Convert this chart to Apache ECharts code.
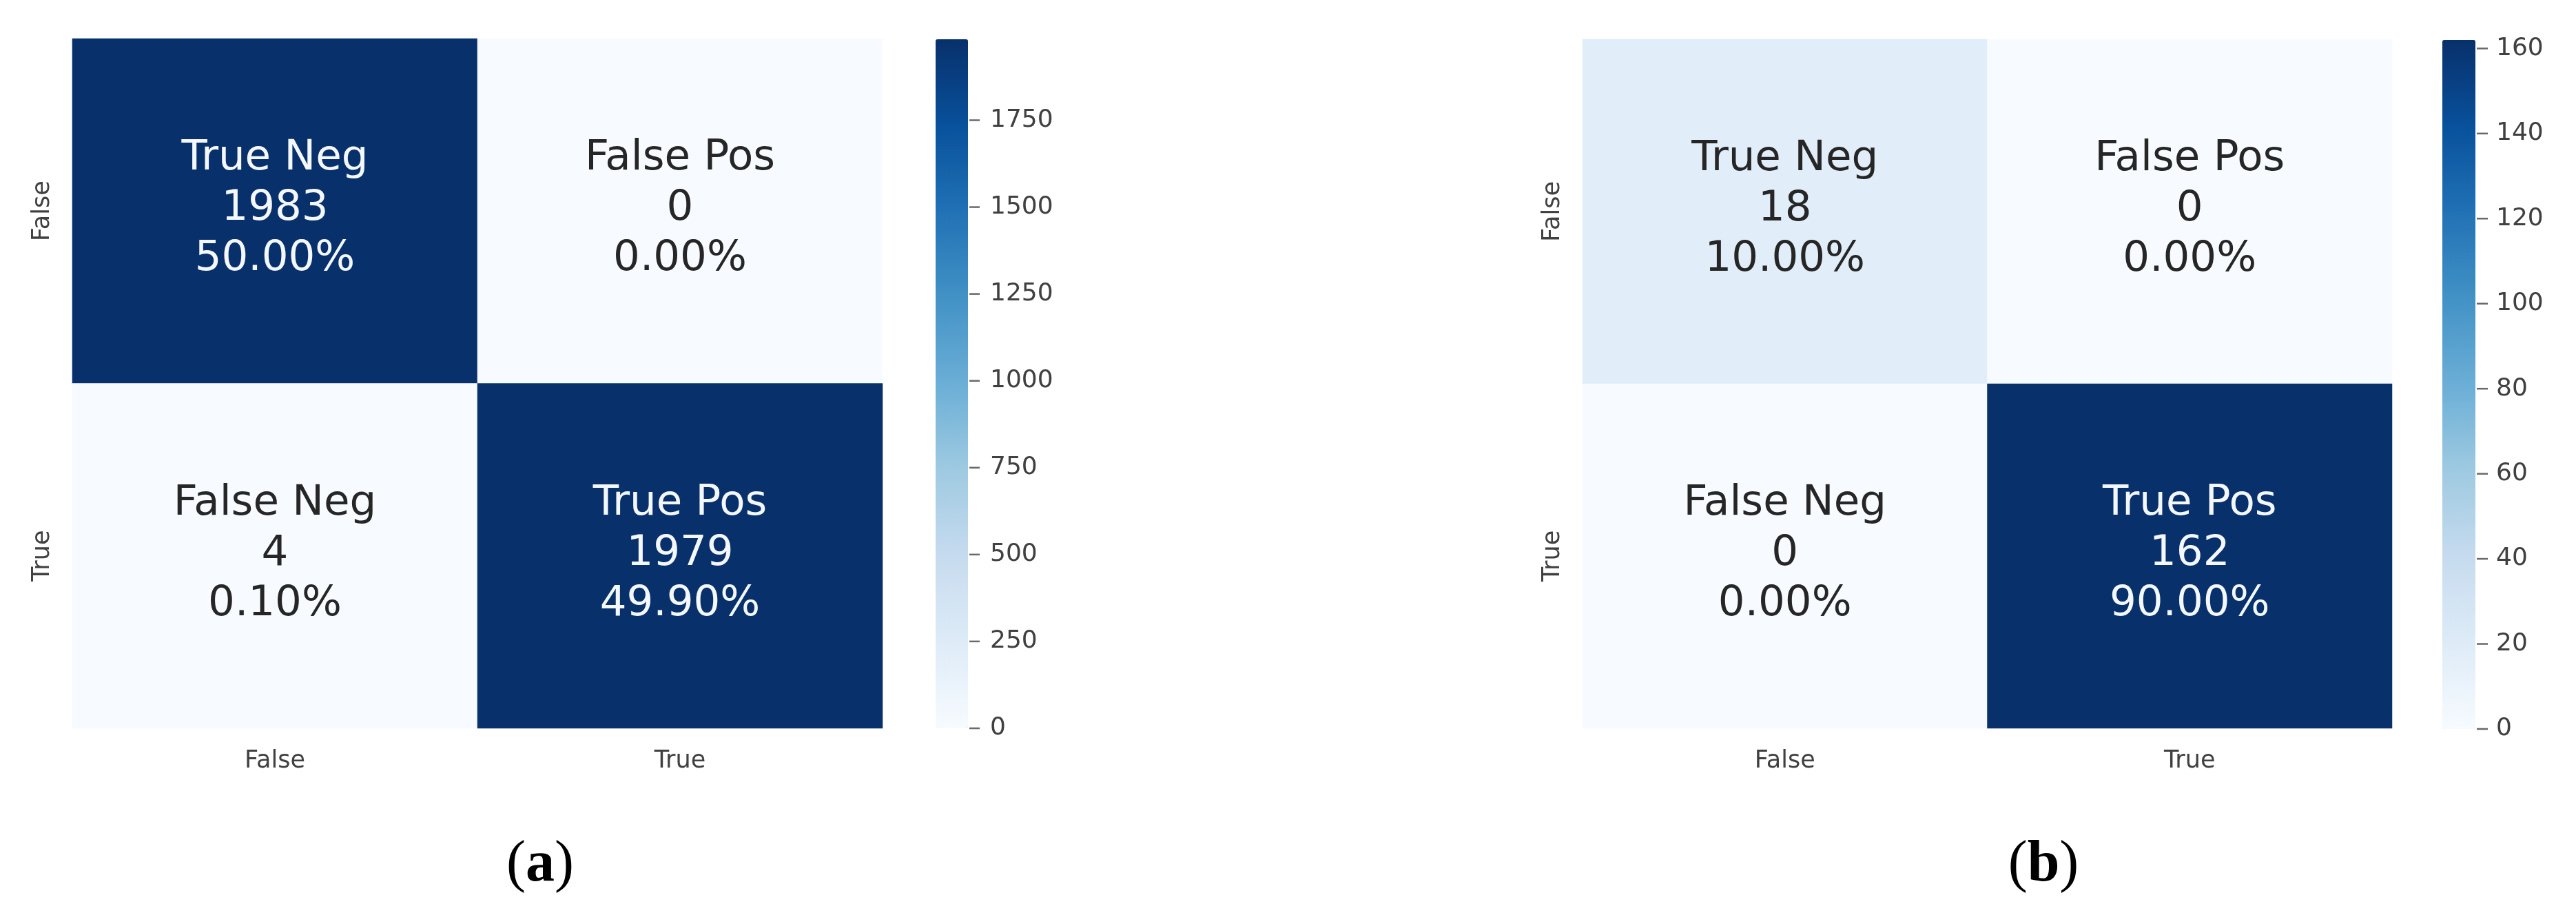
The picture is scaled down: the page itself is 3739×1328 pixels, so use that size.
<!DOCTYPE html>
<html>
<head>
<meta charset="utf-8">
<script src="https://cdn.jsdelivr.net/npm/echarts@6/dist/echarts.min.js"></script>
<style>
html,body{margin:0;padding:0;background:#fff;}
#chart{width:3739px;height:1328px;}
</style>
</head>
<body>
<div id="chart"></div>
<script>
// ---- data ----
const xCats = ['False', 'True'];
const yCats = ['False', 'True'];
const cellNames = ['True Neg', 'False Pos', 'False Neg', 'True Pos'];
const countsA = [1983, 0, 4, 1979];
const pctA = ['50.00%', '0.00%', '0.10%', '49.90%'];
const countsB = [18, 0, 0, 162];
const pctB = ['10.00%', '0.00%', '0.00%', '90.00%'];
const maxA = 1983;
const maxB = 162;
const ticksA = [0, 250, 500, 750, 1000, 1250, 1500, 1750];
const ticksB = [0, 20, 40, 60, 80, 100, 120, 140, 160];
const captions = ['a', 'b'];

// ---- styles ----
const blues = ['#f7fbff', '#deebf7', '#c6dbef', '#9ecae1', '#6baed6', '#4292c6', '#2171b5', '#08519c', '#08306b'];
const FONT = '"DejaVu Sans", sans-serif';
const lightText = '#f4f8fd';
const darkText = '#262626';
const tickColor = '#444444';

function cells(counts, max) {
  return counts.map((v, i) => ({
    value: [i % 2, Math.floor(i / 2), v],
    label: { color: v / max > 0.5 ? lightText : darkText }
  }));
}
function fmt(pcts) {
  return p => cellNames[p.dataIndex] + '\n' + p.value[2] + '\n' + pcts[p.dataIndex];
}

const gridA = { left: 105, top: 56, width: 1176, height: 1001 };
const gridB = { left: 2297, top: 57, width: 1175, height: 1000 };
const barA = { left: 1358, top: 57, width: 47, height: 1000 };
const barB = { left: 3545, top: 58, width: 48, height: 1000 };

function catX(gi) {
  return {
    type: 'category', data: xCats, gridIndex: gi,
    axisLine: { show: false }, axisTick: { show: false }, splitArea: { show: false },
    axisLabel: { fontFamily: FONT, fontSize: 35, color: '#404040', margin: 30 }
  };
}
function catY(gi) {
  return {
    type: 'category', data: yCats, gridIndex: gi, inverse: true,
    axisLine: { show: false }, axisTick: { show: false }, splitArea: { show: false },
    axisLabel: { fontFamily: FONT, fontSize: 35, color: '#404040', rotate: 90, margin: 26 }
  };
}
function barX(gi) {
  return { type: 'value', gridIndex: gi, show: false, min: 0, max: 1 };
}
function barY(gi, max, ticks, margin) {
  return {
    type: 'value', gridIndex: gi, min: 0, max: max, position: 'right',
    axisLine: { show: false },
    splitLine: { show: false },
    axisTick: { show: false },
    axisLabel: {
      customValues: ticks, formatter: v => String(v),
      fontFamily: FONT, fontSize: 36, color: '#404040', margin: margin
    }
  };
}
function tickSeries(gi, ticks, len) {
  return {
    type: 'scatter', xAxisIndex: gi, yAxisIndex: gi, silent: true, clip: false,
    data: ticks.map(t => [1, t]),
    symbol: 'rect', symbolSize: [len, 2.5], symbolOffset: [len / 2 + 2, 0],
    itemStyle: { color: tickColor },
    emphasis: { disabled: true }
  };
}

const labelStyle = {
  show: true, fontFamily: FONT, fontSize: 61, lineHeight: 73,
  align: 'center', verticalAlign: 'middle', offset: [0, -3]
};

const option = {
  backgroundColor: '#ffffff',
  animation: false,
  grid: [gridA, gridB, barA, barB],
  xAxis: [catX(0), catX(1), barX(2), barX(3)],
  yAxis: [catY(0), catY(1), barY(2, maxA, ticksA, 32), barY(3, maxB, ticksB, 30)],
  visualMap: [
    {
      type: 'continuous', seriesIndex: 0, min: 0, max: maxA, calculable: false,
      left: barA.left, top: barA.top, itemWidth: barA.width, itemHeight: barA.height,
      padding: 0, text: null, showLabel: false, hoverLink: false,
      inRange: { color: blues }
    },
    {
      type: 'continuous', seriesIndex: 1, min: 0, max: maxB, calculable: false,
      left: barB.left, top: barB.top, itemWidth: barB.width, itemHeight: barB.height,
      padding: 0, text: null, showLabel: false, hoverLink: false,
      inRange: { color: blues }
    }
  ],
  series: [
    {
      type: 'heatmap', xAxisIndex: 0, yAxisIndex: 0,
      data: cells(countsA, maxA),
      label: Object.assign({ formatter: fmt(pctA) }, labelStyle),
      emphasis: { disabled: true }
    },
    {
      type: 'heatmap', xAxisIndex: 1, yAxisIndex: 1,
      data: cells(countsB, maxB),
      label: Object.assign({ formatter: fmt(pctB) }, labelStyle),
      emphasis: { disabled: true }
    },
    tickSeries(2, ticksA, 15),
    tickSeries(3, ticksB, 16)
  ],
  graphic: [
    {
      type: 'text', x: 784, y: 1256,
      style: {
        text: '({b|' + captions[0] + '})',
        font: '84px "Liberation Serif", "Times New Roman", serif',
        fill: '#000', textAlign: 'center', textVerticalAlign: 'middle',
        rich: { b: { fontWeight: 'bold', fontSize: 84, fontFamily: '"Liberation Serif", serif', fill: '#000' } }
      }
    },
    {
      type: 'text', x: 2966, y: 1256,
      style: {
        text: '({b|' + captions[1] + '})',
        font: '84px "Liberation Serif", "Times New Roman", serif',
        fill: '#000', textAlign: 'center', textVerticalAlign: 'middle',
        rich: { b: { fontWeight: 'bold', fontSize: 84, fontFamily: '"Liberation Serif", serif', fill: '#000' } }
      }
    }
  ]
};

const chart = echarts.init(document.getElementById('chart'), null, { renderer: 'canvas' });
chart.setOption(option);
</script>
</body>
</html>
